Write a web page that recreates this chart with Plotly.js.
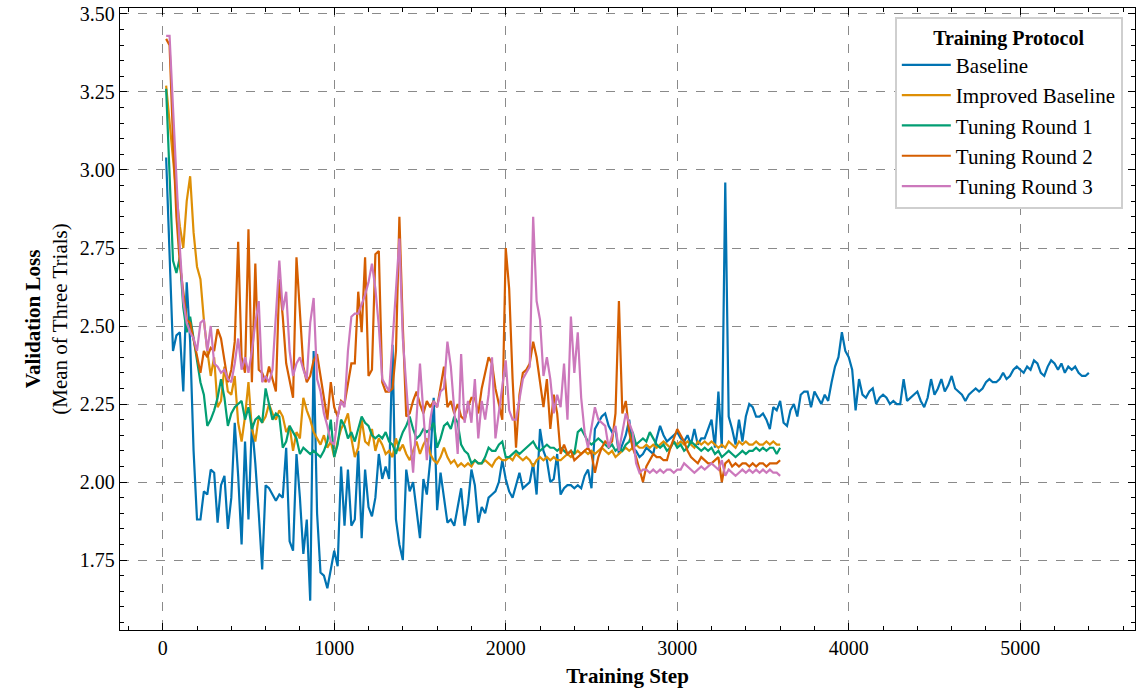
<!DOCTYPE html>
<html>
<head>
<meta charset="utf-8">
<script src="https://cdn.plot.ly/plotly-3.0.1.min.js"></script>
<style>html,body{margin:0;padding:0;background:#fff;}#chart{width:1146px;height:690px;}</style>
</head>
<body>
<div id="chart"></div>
<script>
// Evaluation every 20 training steps
const stepsLong = [];
for (let s = 20; s <= 5400; s += 20) stepsLong.push(s);
const stepsShort = [];
for (let s = 20; s <= 3600; s += 20) stepsShort.push(s);

const seriesNames = ["Baseline", "Improved Baseline", "Tuning Round 1", "Tuning Round 2", "Tuning Round 3"];
const seriesColors = ["#0173b2", "#de8f05", "#029e73", "#d55e00", "#cc78bc"];

const baseline = [
  3.04,2.75,2.42,2.47,2.48,2.29,2.64,2.45,2.10,1.88,
  1.88,1.97,1.96,2.04,2.03,1.87,1.99,2.02,1.85,1.95,
  2.19,2.02,1.80,2.13,1.88,2.19,2.06,1.90,1.72,1.99,
  1.98,1.96,1.94,1.96,1.95,2.11,1.81,1.78,2.09,1.95,
  1.77,1.88,1.62,2.42,1.90,1.71,1.70,1.66,1.72,1.78,
  1.73,2.05,1.86,2.04,1.86,1.88,2.10,1.82,2.04,1.92,
  1.89,1.95,2.09,2.01,2.05,2.01,2.44,1.88,1.80,1.75,
  2.04,1.97,2.00,1.90,1.82,2.01,1.96,2.07,2.27,1.91,
  2.03,1.95,1.87,1.88,1.86,1.92,1.98,1.86,1.93,2.04,
  1.99,1.87,1.92,1.90,1.95,1.96,1.97,2.00,2.07,2.01,
  1.97,1.95,1.99,2.03,1.98,1.99,2.00,2.06,1.96,2.17,
  2.10,2.07,2.00,2.01,2.09,1.96,1.98,1.99,1.99,1.98,
  1.99,1.98,2.02,2.04,1.98,2.17,2.19,2.21,2.22,2.18,
  2.16,2.17,2.09,2.12,2.15,2.20,2.11,2.10,2.08,2.09,
  2.11,2.10,2.09,2.14,2.18,2.15,2.13,2.14,2.15,2.16,
  2.14,2.13,2.15,2.12,2.17,2.12,2.14,2.14,2.17,2.20,
  2.11,2.29,2.11,2.96,2.21,2.17,2.12,2.20,2.13,2.21,
  2.25,2.24,2.21,2.21,2.22,2.20,2.17,2.24,2.23,2.26,
  2.19,2.18,2.23,2.25,2.21,2.28,2.29,2.29,2.24,2.29,
  2.27,2.25,2.28,2.26,2.32,2.37,2.40,2.48,2.42,2.40,
  2.36,2.23,2.33,2.28,2.27,2.29,2.30,2.25,2.27,2.28,
  2.27,2.25,2.26,2.25,2.25,2.33,2.26,2.27,2.28,2.29,
  2.26,2.24,2.27,2.33,2.28,2.30,2.33,2.29,2.31,2.34,
  2.30,2.29,2.28,2.26,2.28,2.29,2.30,2.29,2.30,2.32,
  2.33,2.32,2.32,2.33,2.35,2.33,2.34,2.36,2.37,2.36,
  2.35,2.37,2.36,2.39,2.38,2.35,2.34,2.37,2.39,2.38,
  2.36,2.38,2.35,2.37,2.36,2.37,2.35,2.34,2.34,2.35
];

const improvedBaseline = [
  3.27,3.15,3.02,2.92,2.82,2.75,2.90,2.98,2.80,2.69,
  2.65,2.52,2.42,2.34,2.40,2.24,2.26,2.37,2.29,2.28,
  2.34,2.19,2.13,2.21,2.32,2.17,2.13,2.21,2.19,2.21,
  2.25,2.22,2.20,2.23,2.21,2.16,2.18,2.10,2.16,2.14,
  2.27,2.23,2.20,2.16,2.14,2.12,2.15,2.11,2.13,2.08,
  2.13,2.17,2.19,2.22,2.14,2.08,2.11,2.20,2.13,2.12,
  2.17,2.10,2.14,2.12,2.09,2.10,2.08,2.14,2.10,2.12,
  2.09,2.07,2.10,2.13,2.09,2.12,2.14,2.09,2.07,2.06,
  2.08,2.11,2.08,2.06,2.07,2.05,2.06,2.05,2.06,2.05,
  2.07,2.06,2.06,2.07,2.06,2.05,2.07,2.08,2.07,2.07,
  2.08,2.07,2.09,2.08,2.07,2.08,2.07,2.05,2.07,2.08,
  2.07,2.08,2.07,2.08,2.07,2.07,2.08,2.09,2.08,2.09,
  2.10,2.09,2.10,2.09,2.10,2.09,2.10,2.11,2.10,2.09,
  2.10,2.08,2.09,2.10,2.11,2.10,2.11,2.12,2.11,2.11,
  2.12,2.11,2.12,2.11,2.12,2.13,2.12,2.11,2.13,2.12,
  2.13,2.12,2.13,2.12,2.11,2.13,2.12,2.13,2.12,2.13,
  2.12,2.11,2.12,2.11,2.13,2.12,2.11,2.13,2.12,2.13,
  2.12,2.12,2.13,2.12,2.12,2.13,2.12,2.13,2.12,2.12
];

const tuningRound1 = [
  3.26,3.00,2.71,2.67,2.72,2.56,2.48,2.53,2.46,2.40,
  2.32,2.28,2.18,2.20,2.23,2.27,2.33,2.27,2.18,2.22,
  2.24,2.25,2.26,2.20,2.24,2.17,2.20,2.21,2.19,2.30,
  2.25,2.20,2.22,2.21,2.11,2.13,2.18,2.16,2.14,2.09,
  2.11,2.10,2.09,2.10,2.09,2.08,2.10,2.13,2.20,2.08,
  2.12,2.20,2.18,2.14,2.16,2.13,2.17,2.21,2.19,2.18,
  2.15,2.14,2.15,2.14,2.16,2.13,2.12,2.09,2.13,2.16,
  2.18,2.21,2.17,2.14,2.15,2.17,2.16,2.17,2.19,2.11,
  2.14,2.18,2.19,2.17,2.21,2.19,2.12,2.10,2.09,2.06,
  2.07,2.06,2.06,2.08,2.11,2.10,2.10,2.12,2.13,2.08,
  2.08,2.09,2.10,2.09,2.10,2.11,2.12,2.13,2.11,2.10,
  2.11,2.12,2.11,2.11,2.10,2.11,2.10,2.09,2.10,2.09,
  2.16,2.17,2.15,2.13,2.12,2.13,2.14,2.13,2.12,2.11,
  2.12,2.10,2.11,2.10,2.12,2.13,2.16,2.12,2.13,2.14,
  2.13,2.16,2.14,2.12,2.11,2.12,2.10,2.11,2.13,2.11,
  2.12,2.10,2.11,2.13,2.12,2.11,2.10,2.11,2.10,2.11,
  2.09,2.10,2.08,2.09,2.10,2.09,2.08,2.09,2.10,2.09,
  2.10,2.10,2.11,2.10,2.11,2.10,2.11,2.11,2.09,2.11
];

const tuningRound2 = [
  3.42,3.40,3.10,2.85,2.70,2.60,2.52,2.51,2.46,2.41,
  2.35,2.42,2.40,2.43,2.42,2.49,2.46,2.39,2.32,2.36,
  2.45,2.77,2.40,2.35,2.81,2.32,2.70,2.36,2.35,2.32,
  2.37,2.33,2.29,2.65,2.53,2.38,2.32,2.27,2.72,2.53,
  2.37,2.32,2.34,2.39,2.41,2.34,2.27,2.20,2.32,2.24,
  2.21,2.26,2.25,2.32,2.38,2.38,2.61,2.48,2.72,2.34,
  2.36,2.73,2.74,2.32,2.29,2.29,2.30,2.42,2.85,2.50,
  2.21,2.22,2.26,2.29,2.25,2.22,2.26,2.24,2.26,2.24,
  2.30,2.37,2.24,2.26,2.22,2.25,2.21,2.20,2.24,2.27,
  2.27,2.22,2.30,2.35,2.40,2.38,2.30,2.25,2.20,2.75,
  2.62,2.33,2.11,2.28,2.35,2.36,2.38,2.45,2.40,2.32,
  2.24,2.33,2.17,2.28,2.22,2.09,2.12,2.09,2.10,2.07,
  2.08,2.09,2.10,2.11,2.09,2.03,2.08,2.11,2.13,2.12,
  2.13,2.22,2.58,2.22,2.26,2.16,2.11,2.08,2.04,2.00,
  2.05,2.07,2.09,2.08,2.08,2.07,2.07,2.11,2.14,2.17,
  2.15,2.13,2.10,2.08,2.07,2.06,2.08,2.07,2.06,2.06,
  2.07,2.08,2.00,2.06,2.07,2.05,2.06,2.05,2.06,2.06,
  2.05,2.06,2.05,2.06,2.06,2.05,2.06,2.06,2.06,2.07
];

const tuningRound3 = [
  3.43,3.43,3.20,2.96,2.75,2.58,2.51,2.48,2.46,2.42,
  2.51,2.52,2.42,2.50,2.38,2.37,2.35,2.36,2.33,2.32,
  2.38,2.46,2.36,2.40,2.35,2.42,2.51,2.58,2.32,2.34,
  2.32,2.36,2.55,2.71,2.55,2.61,2.42,2.34,2.38,2.40,
  2.36,2.33,2.51,2.59,2.33,2.29,2.22,2.18,2.13,2.12,
  2.21,2.26,2.24,2.42,2.53,2.54,2.54,2.57,2.60,2.64,
  2.70,2.62,2.50,2.33,2.31,2.29,2.45,2.60,2.78,2.46,
  2.30,2.16,2.03,2.20,2.38,2.22,2.07,2.20,2.26,2.24,
  2.29,2.30,2.45,2.37,2.24,2.09,2.41,2.19,2.26,2.19,
  2.33,2.14,2.26,2.20,2.28,2.40,2.14,2.22,2.30,2.39,
  2.23,2.20,2.20,2.26,2.33,2.35,2.37,2.85,2.58,2.52,
  2.34,2.40,2.33,2.22,2.28,2.24,2.38,2.20,2.53,2.35,
  2.48,2.27,2.16,2.11,2.18,2.24,2.20,2.19,2.18,2.11,
  2.15,2.18,2.10,2.16,2.22,2.19,2.16,2.06,2.03,2.04,
  2.04,2.03,2.04,2.03,2.04,2.03,2.04,2.04,2.03,2.04,
  2.04,2.06,2.05,2.04,2.03,2.04,2.05,2.04,2.05,2.06,
  2.05,2.04,2.07,2.02,2.04,2.03,2.02,2.03,2.04,2.03,
  2.04,2.03,2.04,2.03,2.04,2.03,2.04,2.03,2.03,2.02
];

const xTicks = [0, 1000, 2000, 3000, 4000, 5000];
const yTicks = [1.75, 2.00, 2.25, 2.50, 2.75, 3.00, 3.25, 3.50];

const allY = [baseline, improvedBaseline, tuningRound1, tuningRound2, tuningRound3];
const allX = [stepsLong, stepsShort, stepsShort, stepsShort, stepsShort];

const FONT = "'Liberation Serif', 'DejaVu Serif', serif";

const traces = allY.map((ys, i) => ({
  type: "scatter",
  mode: "lines",
  name: seriesNames[i],
  x: allX[i],
  y: ys,
  line: {color: seriesColors[i], width: 2.2}
}));

const axisCommon = {
  showline: true, linecolor: "#000", linewidth: 1.3, mirror: "allticks",
  ticks: "inside", ticklen: 7, tickwidth: 1, tickcolor: "#000",
  showgrid: true, gridcolor: "#8a8a8a", griddash: "dash", gridwidth: 1,
  zeroline: false,
  tickfont: {family: FONT, size: 20, color: "#000"}
};

const layout = {
  width: 1146, height: 690,
  margin: {l: 120, r: 11, t: 8, b: 60},
  paper_bgcolor: "#fff", plot_bgcolor: "#fff",
  font: {family: FONT, color: "#000"},
  showlegend: true,
  legend: {
    x: 0.988, y: 0.986, xanchor: "right", yanchor: "top",
    bgcolor: "#fff", bordercolor: "#cfcfcf", borderwidth: 2,
    font: {family: FONT, size: 21, color: "#000"},
    itemwidth: 49,
    title: {text: "<b>Training Protocol</b>", side: "top center", font: {family: FONT, size: 20, color: "#000"}},
    tracegroupgap: 0
  },
  xaxis: Object.assign({}, axisCommon, {
    range: [-249, 5669],
    tickmode: "array", tickvals: xTicks, ticktext: xTicks.map(String),
    minor: {dtick: 200, tick0: 0, ticks: "inside", ticklen: 4, tickcolor: "#000", showgrid: false},
    title: {text: "<b>Training Step</b>", font: {family: FONT, size: 21, color: "#000"}, standoff: 10}
  }),
  yaxis: Object.assign({}, axisCommon, {
    range: [1.526, 3.519],
    tickmode: "array", tickvals: yTicks, ticktext: yTicks.map(v => v.toFixed(2)),
    minor: {dtick: 0.05, tick0: 1.5, ticks: "inside", ticklen: 4, tickcolor: "#000", showgrid: false},
    title: {text: "<b>Validation Loss</b><br>(Mean of Three Trials)", font: {family: FONT, size: 21, color: "#000"}, standoff: 6}
  })
};

Plotly.newPlot("chart", traces, layout, {displayModeBar: false, staticPlot: true});
</script>
</body>
</html>
